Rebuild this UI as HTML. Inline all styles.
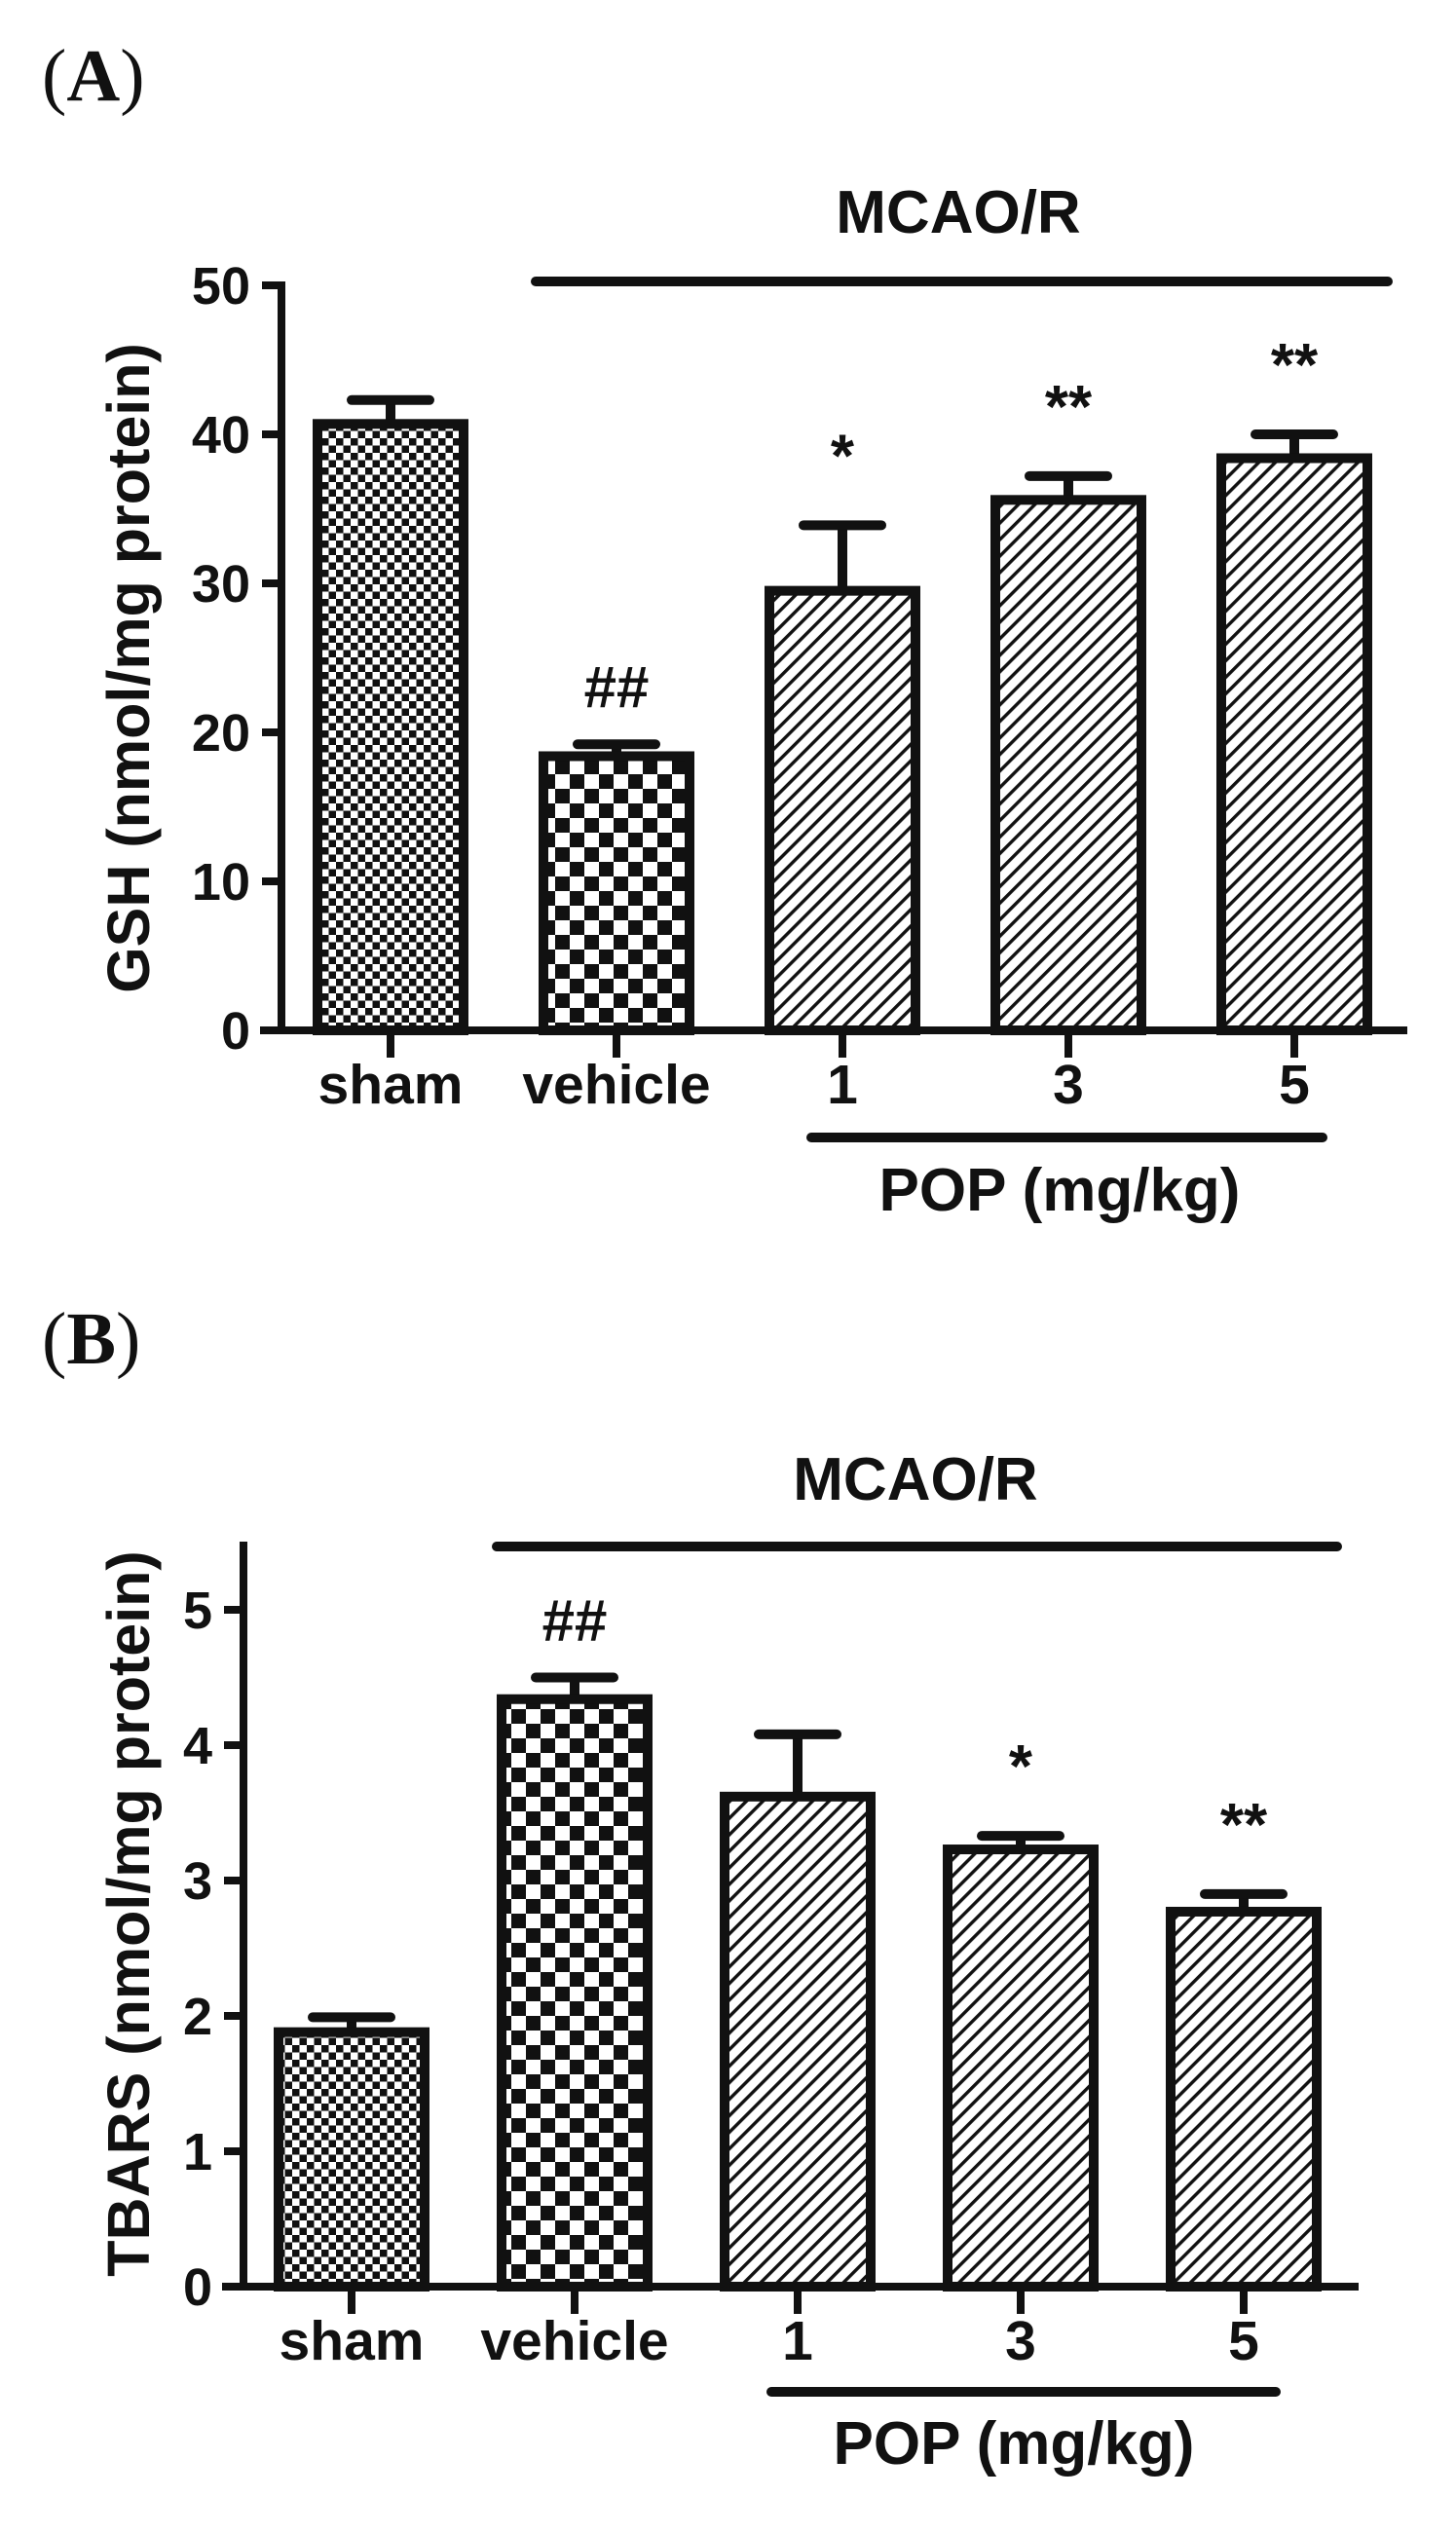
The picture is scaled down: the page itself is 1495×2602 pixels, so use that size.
<!DOCTYPE html>
<html><head><meta charset="utf-8"><style>
html,body{margin:0;padding:0;background:#fff;}
svg{display:block;}
text{font-family:"Liberation Sans",Arial,sans-serif;font-weight:bold;fill:#111;}
.serif{font-family:"Liberation Serif","Times New Roman",serif;}
</style></head><body>
<svg id="fig" width="1495" height="2602" viewBox="0 0 1495 2602" xmlns="http://www.w3.org/2000/svg">
<defs>
<pattern id="pSham" patternUnits="userSpaceOnUse" width="15" height="15"><rect width="15" height="15" fill="#fff"/><rect x="0" y="0" width="7.5" height="7.5" fill="#111"/><rect x="7.5" y="7.5" width="7.5" height="7.5" fill="#111"/></pattern>
<pattern id="pVeh" patternUnits="userSpaceOnUse" width="30" height="30"><rect width="30" height="30" fill="#fff"/><rect x="0" y="0" width="15" height="15" fill="#111"/><rect x="15" y="15" width="15" height="15" fill="#111"/></pattern>
<pattern id="pHatch" patternUnits="userSpaceOnUse" width="12" height="12" patternTransform="rotate(45)"><rect width="12" height="12" fill="#fff"/><rect x="0" y="0" width="3.4" height="12" fill="#111"/></pattern>
</defs>
<text class="serif" x="43" y="103" font-size="76"><tspan font-weight="normal">(</tspan>A<tspan font-weight="normal">)</tspan></text>
<text class="serif" x="43" y="1400" font-size="76"><tspan font-weight="normal">(</tspan>B<tspan font-weight="normal">)</tspan></text>
<g id="chartA"></g>
<g id="chartB"></g>
</svg>
<script>
const categories = ["sham","vehicle","1","3","5"];
const gshValues = [40.7, 18.4, 29.5, 35.6, 38.4];
const gshErrors = [1.6, 0.8, 4.4, 1.6, 1.6];
const gshMarks = ["", "##", "*", "**", "**"];
const gshTicks = [0,10,20,30,40,50];
const tbarsValues = [1.88, 4.34, 3.62, 3.23, 2.77];
const tbarsErrors = [0.11, 0.16, 0.46, 0.10, 0.13];
const tbarsMarks = ["", "##", "", "*", "**"];
const tbarsTicks = [0,1,2,3,4,5];

const NS = "http://www.w3.org/2000/svg";
function mk(parent, tag, attrs, txt){
  const e = document.createElementNS(NS, tag);
  for (const k in attrs) e.setAttribute(k, attrs[k]);
  if (txt !== undefined) e.textContent = txt;
  parent.appendChild(e);
  return e;
}
const fills = ["url(#pSham)","url(#pVeh)","url(#pHatch)","url(#pHatch)","url(#pHatch)"];

function draw(g, cfg, values, errors, marks, ticks){
  const yS = v => cfg.y0 - (v / cfg.unit) * cfg.pxUnit;
  const xC = i => cfg.x0c + i * cfg.step;
  const bw = 150;
  // y axis
  let e = mk(g,"line",{x1:cfg.ax,y1:cfg.ytop,x2:cfg.ax,y2:cfg.y0+4,stroke:"#111","stroke-width":8});
  
  
  e = mk(g,"line",{x1:cfg.ax-22,y1:cfg.y0,x2:cfg.axr,y2:cfg.y0,stroke:"#111","stroke-width":8});
  
  
  ticks.forEach(t=>{
    const y = yS(t);
    let l = mk(g,"line",{x1:cfg.ax-20,y1:y,x2:cfg.ax,y2:y,stroke:"#111","stroke-width":8});
    
    
    let tx = mk(g,"text",{x:cfg.ax-32,y:y+19,"text-anchor":"end","font-size":54}, String(t));
    
    
  });
  values.forEach((v,i)=>{
    const cx = xC(i), top = yS(v), et = yS(v+errors[i]);
    let l = mk(g,"line",{x1:cx,y1:top,x2:cx,y2:et,stroke:"#111","stroke-width":10});
    
    
    l = mk(g,"line",{x1:cx-40,y1:et,x2:cx+40,y2:et,stroke:"#111","stroke-width":10,"stroke-linecap":"round"});
    
    
    let r = mk(g,"rect",{x:cx-bw/2,y:top,width:bw,height:cfg.y0-top,fill:fills[i],stroke:"#111","stroke-width":10});
    
    
    l = mk(g,"line",{x1:cx,y1:cfg.y0,x2:cx,y2:cfg.y0+28,stroke:"#111","stroke-width":8});
    
    
    let tx = mk(g,"text",{x:cx,y:cfg.labY,"text-anchor":"middle","font-size":57}, categories[i]);
    
    
    if (marks[i]) {
      const isHash = marks[i][0]==="#";
      let m = mk(g,"text",{x:cx,y:et-(isHash?38:50),"text-anchor":"middle","font-size":isHash?60:62}, marks[i]);
      
      
    }
  });
  e = mk(g,"line",{x1:cfg.mx1,y1:cfg.my,x2:cfg.mx2,y2:cfg.my,stroke:"#111","stroke-width":10,"stroke-linecap":"round"});
  
  
  e = mk(g,"text",{x:cfg.mtx,y:cfg.mty,"text-anchor":"middle","font-size":62},"MCAO/R");
  
  
  e = mk(g,"line",{x1:cfg.px1,y1:cfg.py,x2:cfg.px2,y2:cfg.py,stroke:"#111","stroke-width":10,"stroke-linecap":"round"});
  
  
  e = mk(g,"text",{x:cfg.ptx,y:cfg.pty,"text-anchor":"middle","font-size":62},"POP (mg/kg)");
  
  
  e = mk(g,"text",{x:0,y:0,"text-anchor":"middle","font-size":61,transform:"translate(153,"+cfg.tcy+") rotate(-90)"},cfg.title);
  
  
}
draw(document.getElementById("chartA"),{
  y0:1058, unit:10, pxUnit:153, ytop:289, ax:289, axr:1445, x0c:401, step:232,
  labY:1133, mx1:550, mx2:1425, my:289, mtx:984, mty:239,
  px1:833, px2:1358, py:1168, ptx:1088, pty:1243, tcy:686, title:"GSH (nmol/mg protein)"
}, gshValues, gshErrors, gshMarks, gshTicks);
draw(document.getElementById("chartB"),{
  y0:2348, unit:1, pxUnit:139, ytop:1583, ax:250, axr:1395, x0c:361, step:229,
  labY:2423, mx1:510, mx2:1373, my:1588, mtx:940, mty:1540,
  px1:792, px2:1310, py:2456, ptx:1041, pty:2530, tcy:1965, title:"TBARS (nmol/mg protein)"
}, tbarsValues, tbarsErrors, tbarsMarks, tbarsTicks);
</script>
</body></html>
